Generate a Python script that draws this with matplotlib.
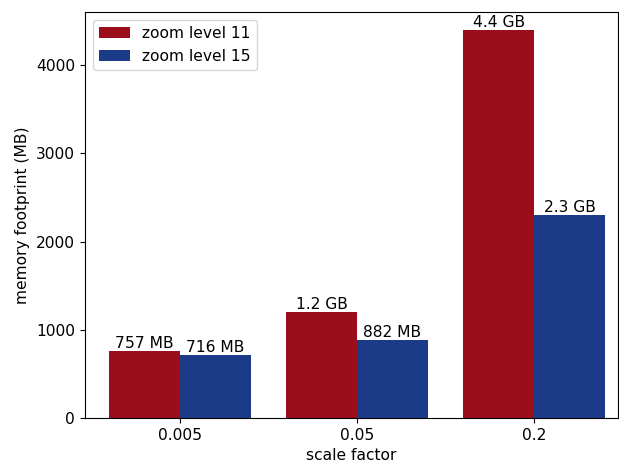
import matplotlib
matplotlib.use("Agg")
import matplotlib.pyplot as plt
import numpy as np

# data
scale_factors = ["0.005", "0.05", "0.2"]
zoom11 = [757, 1200, 4400]
zoom15 = [716, 882, 2300]
labels11 = ["757 MB", "1.2 GB", "4.4 GB"]
labels15 = ["716 MB", "882 MB", "2.3 GB"]

plt.rcParams["font.size"] = 11.2

fig = plt.figure(figsize=(6.19, 4.68), dpi=100)
ax = fig.add_axes([0.137, 0.107, 0.861, 0.867])

x = np.arange(len(scale_factors))
w = 0.4
b1 = ax.bar(x - w / 2, zoom11, w, color="#9b0d1b", label="zoom level 11")
b2 = ax.bar(x + w / 2, zoom15, w, color="#1b3a87", label="zoom level 15")
ax.bar_label(b1, labels=labels11, padding=0)
ax.bar_label(b2, labels=labels15, padding=0)

ax.set_xticks(x)
ax.set_xticklabels(scale_factors)
ax.set_xlim(-0.535, 2.47)
ax.set_ylim(0, 4600)
ax.set_xlabel("scale factor")
ax.set_ylabel("memory footprint (MB)")
ax.legend(loc="upper left")

fig.savefig("out.png", dpi=100)
